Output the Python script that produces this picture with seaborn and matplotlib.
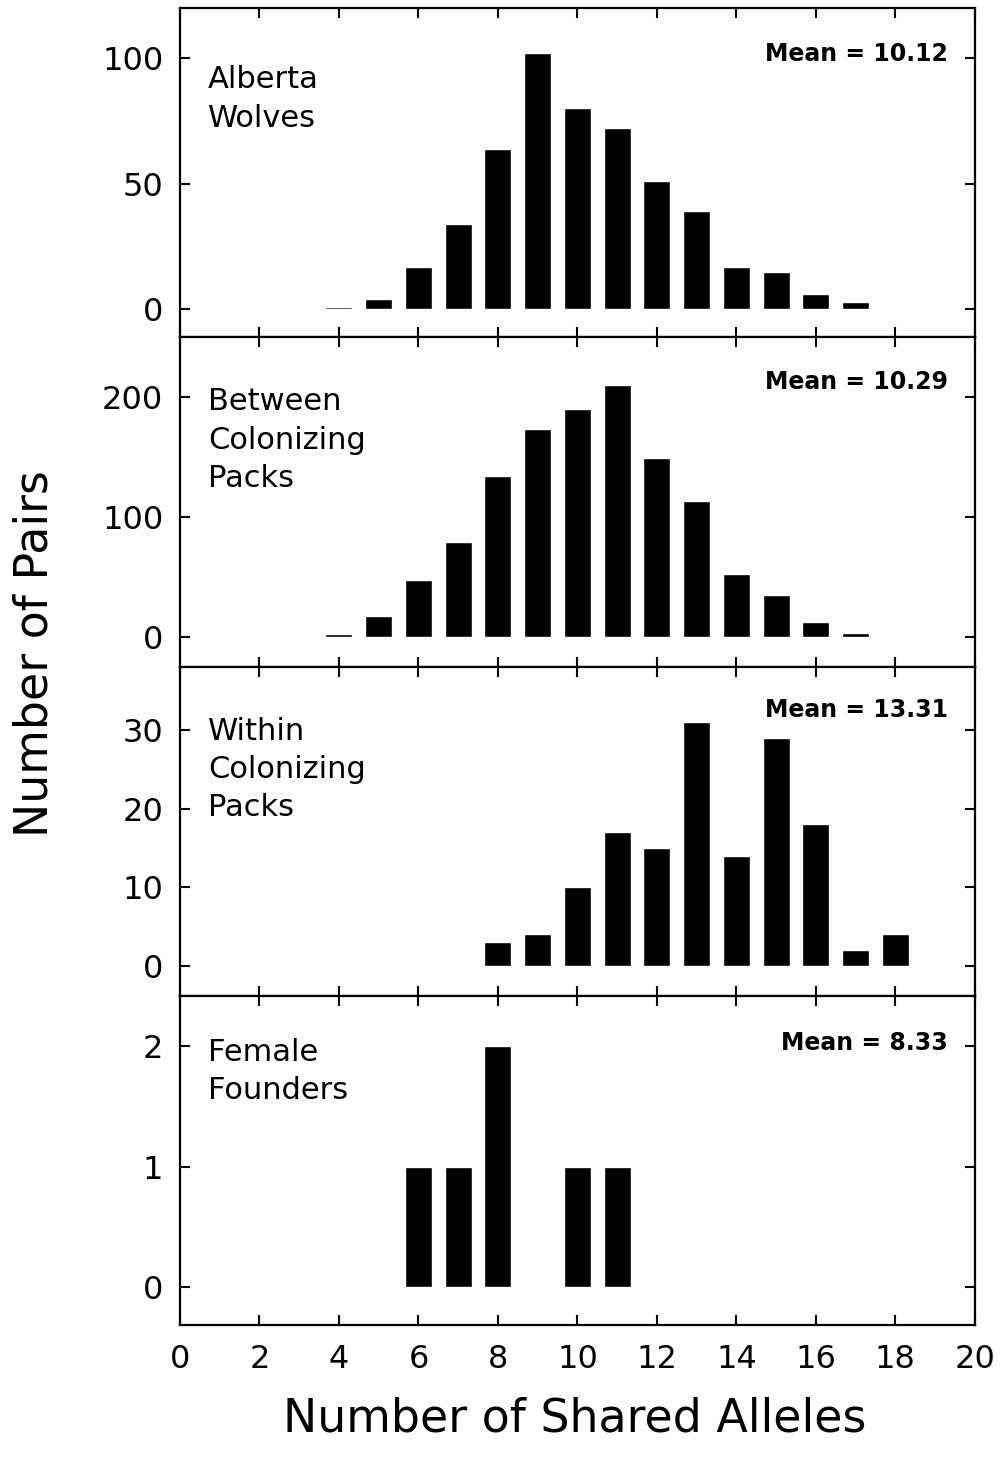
import matplotlib
matplotlib.use("Agg")
import matplotlib.pyplot as plt
import seaborn as sns
import pandas as pd

# Number of shared alleles (x) and number of pairs (y) per panel
alberta_x = [4, 5, 6, 7, 8, 9, 10, 11, 12, 13, 14, 15, 16, 17]
alberta_y = [1, 4, 17, 34, 64, 102, 80, 72, 51, 39, 17, 15, 6, 3]

between_x = [4, 5, 6, 7, 8, 9, 10, 11, 12, 13, 14, 15, 16, 17]
between_y = [2, 17, 47, 79, 134, 173, 190, 210, 149, 113, 52, 35, 12, 3]

within_x = [8, 9, 10, 11, 12, 13, 14, 15, 16, 17, 18]
within_y = [3, 4, 10, 17, 15, 31, 14, 29, 18, 2, 4]

female_x = [6, 7, 8, 10, 11]
female_y = [1, 1, 2, 1, 1]

panel_names = ["Alberta\nWolves", "Between\nColonizing\nPacks",
               "Within\nColonizing\nPacks", "Female\nFounders"]
panel_means = ["Mean = 10.12", "Mean = 10.29", "Mean = 13.31", "Mean = 8.33"]
y_ticks = [[0, 50, 100], [0, 100, 200], [0, 10, 20, 30], [0, 1, 2]]
y_limits = [(-11.2, 120), (-25, 250), (-3.8, 38.1), (-0.315, 2.42)]
x_ticks = list(range(0, 21, 2))

sns.set_theme(style="ticks")
plt.rcParams["font.family"] = ["DejaVu Sans"]
plt.rcParams.update({"text.color": "black", "axes.labelcolor": "black",
                     "xtick.color": "black", "ytick.color": "black",
                     "axes.edgecolor": "black"})

panels = [
    pd.DataFrame({"alleles": alberta_x, "pairs": alberta_y}),
    pd.DataFrame({"alleles": between_x, "pairs": between_y}),
    pd.DataFrame({"alleles": within_x, "pairs": within_y}),
    pd.DataFrame({"alleles": female_x, "pairs": female_y}),
]

fig, axes = plt.subplots(4, 1, figsize=(10.08, 14.62), dpi=100, sharex=True)
fig.subplots_adjust(left=0.1786, right=0.967, top=0.9945, bottom=0.0937, hspace=0)

name_y = [0.826, 0.848, 0.848, 0.873]
mean_y = [0.896, 0.902, 0.903, 0.894]

for i, (ax, df) in enumerate(zip(axes, panels)):
    sns.barplot(data=df, x="alleles", y="pairs", native_scale=True,
                width=0.68, color="black", saturation=1, ax=ax)
    ax.set_xlim(0, 20)
    ax.set_ylim(*y_limits[i])
    ax.set_yticks(y_ticks[i])
    ax.set_xticks(x_ticks)
    ax.set_xlabel("")
    ax.set_ylabel("")
    ax.tick_params(direction="in", top=True, right=True, length=7,
                   width=1.5, labelsize=23, pad=12)
    for sp in ax.spines.values():
        sp.set_linewidth(1.6)
    ax.text(0.035, name_y[i], panel_names[i], transform=ax.transAxes,
            ha="left", va="top", fontsize=22, linespacing=1.4)
    ax.text(0.966, mean_y[i], panel_means[i], transform=ax.transAxes,
            ha="right", va="top", fontsize=17, fontweight="bold")

axes[-1].set_xticklabels([str(t) for t in x_ticks])
axes[-1].tick_params(axis="x", pad=14)

fig.text(0.57, 0.014, "Number of Shared Alleles", ha="center", va="bottom",
         fontsize=33)
fig.text(0.012, 0.553, "Number of Pairs", ha="left", va="center",
         rotation=90, fontsize=33)

fig.savefig("out.png", dpi=100, facecolor="white")
